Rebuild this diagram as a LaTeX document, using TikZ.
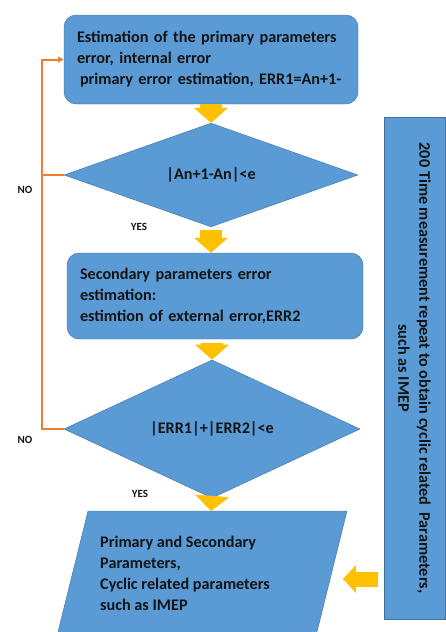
\documentclass[tikz,border=0pt]{standalone}
\usepackage{fontspec}
\setmainfont{Carlito}
\usetikzlibrary{shapes.geometric,arrows.meta}
\definecolor{boxblue}{HTML}{5B9BD5}
\definecolor{edgeblue}{HTML}{41719C}
\definecolor{arrowgold}{HTML}{FFC000}
\definecolor{loopline}{HTML}{ED7D31}
\definecolor{inkdark}{HTML}{141414}
\begin{document}
\begin{tikzpicture}[x=1pt,y=-1pt,
  font=\fontsize{16.2}{21}\selectfont\bfseries, text=inkdark,
  procbox/.style={draw=edgeblue, fill=boxblue, rounded corners=12pt, align=left, inner xsep=13pt, inner ysep=0pt},
  testbox/.style={diamond, draw=edgeblue, fill=boxblue, inner sep=0pt},
  fatarrow/.style={draw=arrowgold, line width=22pt, -{Triangle[length=15pt,width=34pt,line width=0pt]}},
  smalltag/.style={font=\fontsize{11}{13}\selectfont\bfseries},
  loopedge/.style={draw=loopline, line width=2pt}]
\path[use as bounding box, clip] (0,0) rectangle (446,632);
\node[procbox, minimum width=294, minimum height=89, text width=268] (est1) at (211,59.5)
  {\mbox{Estimation of the primary parameters}\\ error, internal error\\ \mbox{\hspace{3pt}primary error estimation, ERR1=An+1-}};
\node[testbox, minimum width=294, minimum height=80] (test1) at (211,175) {|An+1-An|<e};
\node[procbox, minimum width=296, minimum height=86, text width=270] (est2) at (215,296)
  {Secondary parameters error\\ estimation:\\ \mbox{estimtion of external error,ERR2}};
\node[testbox, minimum width=296, minimum height=105] (test2) at (212,429) {|ERR1|+|ERR2|<e};
% output block
\draw[draw=edgeblue, fill=boxblue] (88,511) -- (347,511) -- (312,652) -- (53,652) -- cycle;
\coordinate (outtop) at (211,511);
\node[anchor=north west, inner sep=0pt, align=left] (result) at (100,536)
  {Primary and Secondary\\ Parameters,\\ Cyclic related parameters\\ such as IMEP};
\node[draw=edgeblue, fill=boxblue, rotate=-90, minimum width=502, minimum height=61, inner sep=0pt, align=center] (repeat) at (414.5,368)
  {200 Time measurement repeat to obtain cyclic related\ \ Parameters,\\ such as IMEP};
% flow
\draw[fatarrow] (est1.south) -- (test1.north);
\draw[fatarrow, shorten <=3pt] (test1.south) -- (test1.south |- est2.north);
\draw[fatarrow, shorten <=4pt] (est2.south -| test2.north) -- (test2.north);
\draw[fatarrow, shorten <=2pt] (test2.south) -- (outtop);
\coordinate (intip) at (343,579);
\draw[draw=arrowgold, line width=15pt, -{Triangle[length=13pt,width=28pt,line width=0pt]}, shorten <=6pt] (intip -| repeat.south) -- (intip);
% NO loop
\coordinate (loopx) at (42,0);
\draw[loopedge] (test1.west) -- (test1.west -| loopx);
\draw[loopedge, -{Triangle[length=6pt,width=6pt]}] (test2.west) -- (test2.west -| loopx) |- (est1.west);
\node[smalltag] (no1) at (25,190) {NO};
\node[smalltag] (no2) at (25,440) {NO};
\node[smalltag] (yes1) at (139,227) {YES};
\node[smalltag] (yes2) at (140,494) {YES};
\end{tikzpicture}
\end{document}
